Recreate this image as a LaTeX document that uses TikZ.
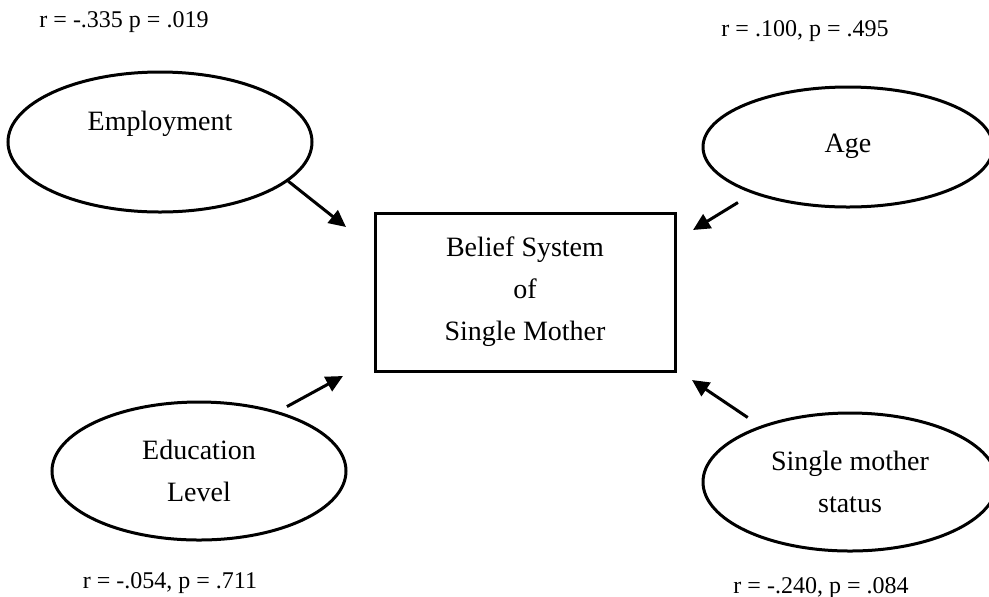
\documentclass[tikz,border=0pt]{standalone}
\usepackage{fontspec}
\setmainfont{Liberation Serif}
\usetikzlibrary{shapes.geometric,arrows.meta}

\begin{document}
\begin{tikzpicture}[x=0.5pt, y=-0.5pt,
factor/.style={ellipse, draw, line width=1.5pt, inner sep=0pt, align=center, font=\fontsize{14}{21}\selectfont},
belief/.style={rectangle, draw, line width=1.5pt, minimum width=150pt, minimum height=79pt, align=center, font=\fontsize{14}{21}\selectfont},
stat/.style={inner sep=0pt, font=\fontsize{12}{14}\selectfont},
arrow/.style={-{Triangle[length=8.5pt,width=8pt]}, line width=1.5pt},
]

\useasboundingbox (0,0) rectangle (989,596);

\node[belief] (bs) at (525,292) {Belief System\\of\\Single Mother};

\node[factor, minimum width=152pt, minimum height=70pt] (emp) at (160,142) {Employment\\ \mbox{}};
\node[factor, minimum width=145pt, minimum height=60pt] (age) at (848,147) {\raisebox{4pt}{Age}};
\node[factor, minimum width=147pt, minimum height=69pt] (edu) at (199,471) {Education\\Level};
\node[factor, minimum width=147pt, minimum height=69pt] (sms) at (850,482) {Single mother\\status};

\node[stat] (remp) at (124,22) {r = -.335 p = .019};
\node[stat] (rage) at (805,31) {r = .100, p = .495};
\node[stat] (redu) at (170,583) {r = -.054, p = .711};
\node[stat] (rsms) at (821,588) {r = -.240, p = .084};

\coordinate (tipemp) at (346,227);
\coordinate (tipage) at (693,230);
\coordinate (tipedu) at (343,376);
\coordinate (tipsms) at (692,380);

\draw[arrow] (emp.-17) -- (tipemp);
\draw[arrow, shorten <=8.5pt] (age.-154) -- (tipage);
\draw[arrow, shorten <=5pt] (edu.37) -- (tipedu);
\draw[arrow, shorten <=7.5pt] (sms.148) -- (tipsms);

\end{tikzpicture}
\end{document}
